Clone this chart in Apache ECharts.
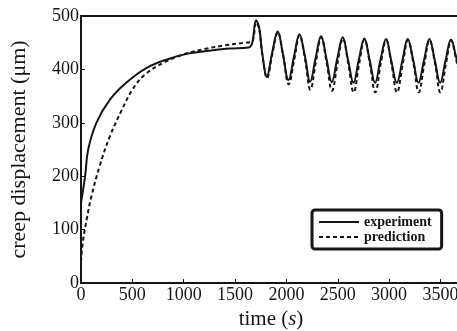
<!DOCTYPE html>
<html lang="en">
<head>
    <meta charset="UTF-8">
    <title>Creep displacement</title>
    <script src="https://cdn.jsdelivr.net/npm/echarts@6.0.0/dist/echarts.min.js"></script>
    <style>
        html, body { margin: 0; padding: 0; background: #fff; }
        #main { width: 457px; height: 331px; }
    </style>
</head>
<body>
    <div id="main"></div>
<script type="text/javascript">
    // time (s) / displacement (um)
    var experiment = [
        [0, 150], [40, 200], [70, 250], [150, 300], [280, 343], [440, 375], [640, 403],
        [860, 420], [1050, 430], [1250, 435], [1450, 439], [1630, 441], [1665, 448],
        [1705, 492], [1735, 478], [1765, 430], [1810, 386], [1860, 430], [1915, 471],
        [1965, 430], [2020, 380], [2075, 425], [2126, 466], [2180, 425], [2231, 377],
        [2285, 422], [2337, 462], [2390, 420], [2442, 376], [2495, 420], [2548, 460],
        [2600, 418], [2653, 375], [2705, 418], [2759, 458], [2810, 418], [2864, 375],
        [2915, 417], [2970, 457], [3020, 417], [3075, 375], [3130, 417], [3181, 457],
        [3235, 417], [3286, 375], [3340, 417], [3392, 457], [3445, 417], [3497, 375],
        [3550, 417], [3603, 456], [3650, 425], [3700, 385]
    ];
    var prediction = [
        [0, 40], [20, 80], [60, 124], [100, 161], [180, 218], [280, 274], [400, 325],
        [500, 362], [620, 390], [800, 412], [1000, 428], [1200, 438], [1400, 445],
        [1600, 450], [1665, 452], [1705, 488], [1735, 476], [1765, 428], [1812, 384],
        [1862, 428], [1917, 469], [1968, 426], [2022, 372], [2078, 420], [2128, 464],
        [2182, 418], [2233, 362], [2288, 415], [2339, 460], [2392, 412], [2444, 360],
        [2498, 412], [2550, 458], [2603, 410], [2655, 357], [2708, 410], [2761, 456],
        [2813, 410], [2866, 357], [2918, 410], [2972, 455], [3023, 410], [3077, 357],
        [3133, 410], [3183, 455], [3238, 410], [3288, 357], [3343, 410], [3394, 455],
        [3448, 410], [3499, 357], [3553, 410], [3605, 454], [3653, 418], [3700, 378]
    ];
    var seriesNames = ['experiment', 'prediction'];

    var ink = '#151515';
    var serif = '"Liberation Serif", "DejaVu Serif", serif';

    var chart = echarts.init(document.getElementById('main'));
    var option = {
        backgroundColor: '#fff',
        animation: false,
        grid: {
            left: 81, top: 16, right: -4, bottom: 48,
            outerBoundsMode: 'none',
            containLabel: false,
            show: true, borderColor: ink, borderWidth: 2
        },
        legend: {
            data: seriesNames,
            orient: 'vertical',
            left: 312, top: 210,
            width: 135, height: 40,
            padding: [5, 10, 5, 6],
            itemGap: 1,
            itemWidth: 40, itemHeight: 14,
            itemStyle: { opacity: 0 },
            borderColor: ink, borderWidth: 3, borderRadius: 3,
            textStyle: { fontFamily: serif, fontSize: 14, color: ink, fontWeight: 'bold' }
        },
        xAxis: {
            type: 'value',
            min: 0, max: 3700, interval: 500,
            name: 'time ({i|s})',
            nameLocation: 'middle',
            nameGap: 26,
            nameTextStyle: {
                fontFamily: serif, fontSize: 21, color: ink,
                rich: { i: { fontFamily: serif, fontSize: 21, fontStyle: 'italic', color: ink } }
            },
            axisLine: { lineStyle: { color: ink, width: 2 } },
            axisTick: { inside: true, length: 4, lineStyle: { color: ink } },
            axisLabel: {
                fontFamily: serif, fontSize: 18, color: ink, margin: 3,
                formatter: function (v) { return String(v); }
            },
            splitLine: { show: false }
        },
        yAxis: {
            type: 'value',
            min: 0, max: 500, interval: 100,
            name: 'creep displacement (\u03bcm)',
            nameLocation: 'middle',
            nameGap: 51,
            nameTextStyle: { fontFamily: serif, fontSize: 22, color: ink },
            axisLine: { lineStyle: { color: ink, width: 2 } },
            axisTick: { inside: true, length: 4, lineStyle: { color: ink } },
            axisLabel: { fontFamily: serif, fontSize: 18, color: ink, margin: 2 },
            splitLine: { show: false }
        },
        series: [
            {
                name: seriesNames[0], type: 'line', data: experiment,
                symbol: 'none', smooth: 0.4,
                lineStyle: { color: ink, width: 2 },
                itemStyle: { color: ink }
            },
            {
                name: seriesNames[1], type: 'line', data: prediction,
                symbol: 'none', smooth: 0.4,
                lineStyle: { color: ink, width: 2, type: [4, 3] },
                itemStyle: { color: ink }
            }
        ]
    };
    chart.setOption(option);
</script>
</body>
</html>
